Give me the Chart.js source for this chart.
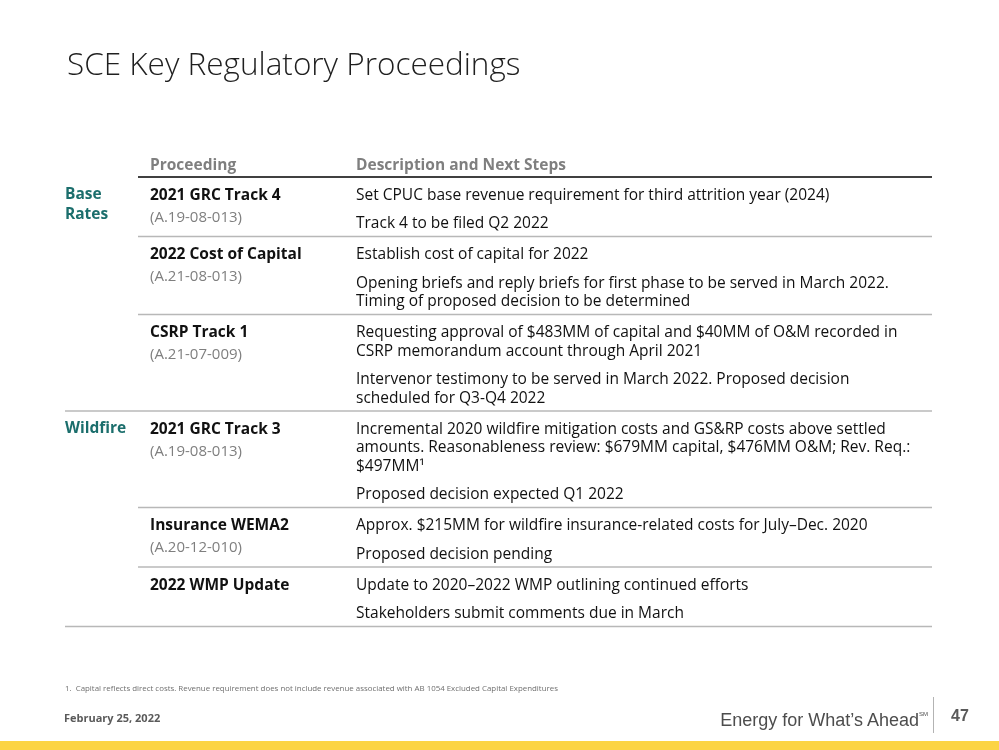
<!DOCTYPE html>
<html>
<head>
<meta charset="utf-8">
<script src="https://cdn.jsdelivr.net/npm/chart.js@4/dist/chart.umd.min.js"></script>
<style>
  body { margin: 0; background: #fff; width: 999px; height: 750px; overflow: hidden; position: relative; font-family: "Open Sans", sans-serif; }
  #slide { position: absolute; left: 0; top: 0; }
  .txt { position: absolute; white-space: nowrap; }
  #title { left: 67px; top: 47px; font-size: 31.5px; line-height: 31px; font-weight: 300; color: #1f1f1f; }
  #note { left: 65px; top: 682px; font-size: 7.9px; line-height: 12px; color: #6f6f6f; }
  #date { left: 64px; top: 710px; font-size: 11px; line-height: 16px; font-weight: 700; color: #5a5a5a; }
  #tag { right: 71px; top: 703px; font-size: 18px; line-height: 22px; color: #4d4d4d; font-family: "Liberation Sans", Arial, sans-serif; }
  #tag sup { font-size: 6px; vertical-align: 10px; }
  #pipe { position: absolute; left: 933px; top: 697px; width: 1px; height: 36px; background: #b3b3b3; }
  #page { left: 951px; top: 707px; font-size: 16px; line-height: 18px; font-weight: 700; color: #5a5a5a; font-family: "Liberation Sans", Arial, sans-serif; }
  #bar { position: absolute; left: 0; top: 741px; width: 999px; height: 9px; background: #fcd444; }
</style>
</head>
<body>
<canvas id="slide" width="999" height="750"></canvas>
<div class="txt" id="title">SCE Key Regulatory Proceedings</div>
<div class="txt" id="note">1.&nbsp; Capital reflects direct costs. Revenue requirement does not include revenue associated with AB 1054 Excluded Capital Expenditures</div>
<div class="txt" id="date">February 25, 2022</div>
<div class="txt" id="tag">Energy for What’s Ahead<sup>SM</sup></div>
<div id="pipe"></div>
<div class="txt" id="page">47</div>
<div id="bar"></div>
<script>
// Table content
const headers = ['Proceeding', 'Description and Next Steps'];
const groups = [['Base', 'Rates'], ['Wildfire']];
const proceedings = ['2021 GRC Track 4', '2022 Cost of Capital', 'CSRP Track 1', '2021 GRC Track 3', 'Insurance WEMA2', '2022 WMP Update'];
const dockets = ['(A.19-08-013)', '(A.21-08-013)', '(A.21-07-009)', '(A.19-08-013)', '(A.20-12-010)', ''];
const rowGroup = [0, 0, 0, 1, 1, 1];
const descriptions = [
    [['Set CPUC base revenue requirement for third attrition year (2024)'],
     ['Track 4 to be filed Q2 2022']],
    [['Establish cost of capital for 2022'],
     ['Opening briefs and reply briefs for first phase to be served in March 2022.', 'Timing of proposed decision to be determined']],
    [['Requesting approval of $483MM of capital and $40MM of O&M recorded in', 'CSRP memorandum account through April 2021'],
     ['Intervenor testimony to be served in March 2022. Proposed decision', 'scheduled for Q3-Q4 2022']],
    [['Incremental 2020 wildfire mitigation costs and GS&RP costs above settled', 'amounts. Reasonableness review: $679MM capital, $476MM O&M; Rev. Req.:', '$497MM¹'],
     ['Proposed decision expected Q1 2022']],
    [['Approx. $215MM for wildfire insurance-related costs for July–Dec. 2020'],
     ['Proposed decision pending']],
    [['Update to 2020–2022 WMP outlining continued efforts'],
     ['Stakeholders submit comments due in March']]
];

const FONT = '"Open Sans", sans-serif';

// Draws the table through the chart's x / y scales
const tablePlugin = {
    id: 'table',
    afterDraw(chart) {
        const ctx = chart.ctx;
        const sx = v => chart.scales.x.getPixelForValue(v);
        const sy = v => chart.scales.y.getPixelForValue(v + 1.5); // text centre offset
        const ly = v => chart.scales.y.getPixelForValue(v);
        const colGroup = 65, colProc = 150, colDesc = 356;
        const lineLeft = 138, lineRight = 932, fullLeft = 65;
        const lineH = 18.5, paraGap = 28.5, padTop = 17, padBottom = 14;

        ctx.save();
        ctx.textBaseline = 'middle';

        // header
        ctx.fillStyle = '#7f7f7f';
        ctx.font = 'bold 15.5px ' + FONT;
        ctx.fillText(headers[0], sx(colProc), sy(164));
        ctx.fillText(headers[1], sx(colDesc), sy(164));
        ctx.strokeStyle = '#000';
        ctx.lineWidth = 1.5;
        ctx.beginPath();
        ctx.moveTo(sx(lineLeft), ly(177));
        ctx.lineTo(sx(lineRight), ly(177));
        ctx.stroke();

        let top = 177;
        proceedings.forEach((name, i) => {
            const first = top + padTop;
            // group label at the first row of a group
            if (i === 0 || rowGroup[i] !== rowGroup[i - 1]) {
                ctx.fillStyle = '#1b6e6c';
                ctx.font = 'bold 15.5px ' + FONT;
                groups[rowGroup[i]].forEach((g, k) => ctx.fillText(g, sx(colGroup), sy(first - 1 + k * 20)));
            }
            ctx.fillStyle = '#111';
            ctx.font = 'bold 15.5px ' + FONT;
            ctx.fillText(name, sx(colProc), sy(first));
            if (dockets[i]) {
                ctx.fillStyle = '#7f7f7f';
                ctx.font = '15px ' + FONT;
                ctx.fillText(dockets[i], sx(colProc), sy(first + 22));
            }
            // description paragraphs
            ctx.fillStyle = '#111';
            ctx.font = '15.5px ' + FONT;
            let y = first;
            descriptions[i].forEach((para, p) => {
                if (p > 0) y += paraGap;
                para.forEach((line, l) => {
                    if (l > 0) y += lineH;
                    ctx.fillText(line, sx(colDesc), sy(y));
                });
            });
            const bottom = y + padBottom;
            // separator
            const last = i === proceedings.length - 1;
            const groupEnd = last || rowGroup[i + 1] !== rowGroup[i];
            ctx.strokeStyle = '#b8b8b8';
            ctx.lineWidth = 1.5;
            ctx.beginPath();
            ctx.moveTo(sx(groupEnd ? fullLeft : lineLeft), ly(bottom));
            ctx.lineTo(sx(lineRight), ly(bottom));
            ctx.stroke();
            top = bottom;
        });
        ctx.restore();
    }
};

new Chart(document.getElementById('slide').getContext('2d'), {
    type: 'scatter',
    data: { datasets: [] },
    options: {
        responsive: false,
        animation: false,
        layout: { padding: 0 },
        plugins: { legend: { display: false }, tooltip: { enabled: false } },
        scales: {
            x: { type: 'linear', min: 0, max: 999, display: false },
            y: { type: 'linear', min: 0, max: 750, reverse: true, display: false }
        }
    },
    plugins: [tablePlugin]
});
</script>
</body>
</html>
